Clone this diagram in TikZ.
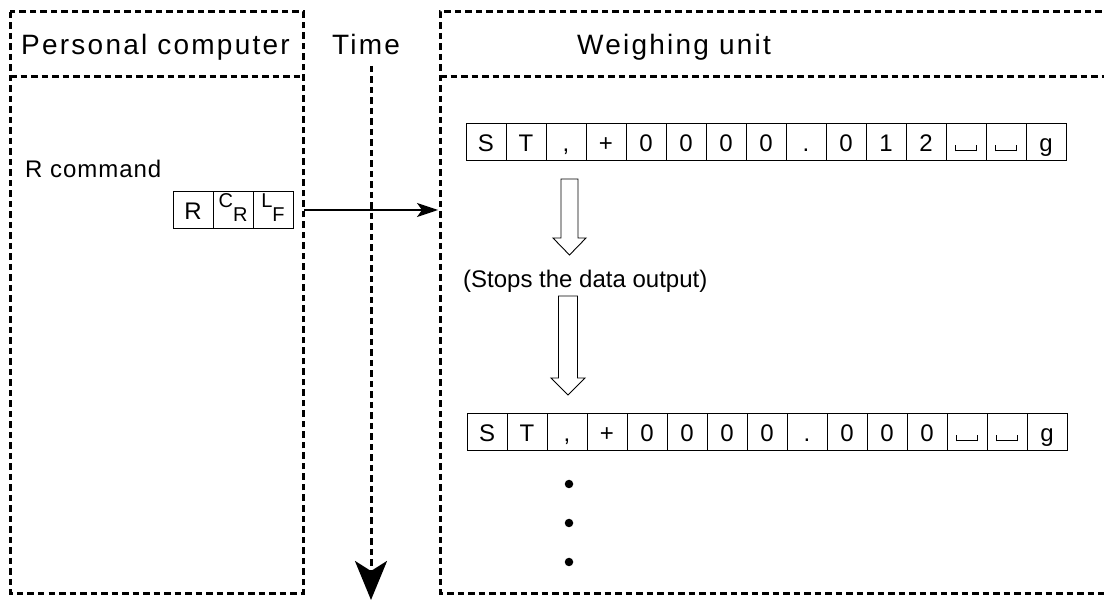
\documentclass[tikz,border=0pt]{standalone}
\usepackage{fontspec}
\setmainfont{Liberation Sans}
\newfontfamily\hdfont{Liberation Sans}[LetterSpace=8]
\newfontfamily\lsfont{Liberation Sans}[LetterSpace=4]
\usetikzlibrary{arrows.meta}
\newcommand\opensp{\rule{1pt}{6pt}\rule{20pt}{1pt}\rule{1pt}{6pt}}
\newcommand\crlf[2]{{\fontsize{20}{22}\selectfont\raisebox{12pt}{#1}\raisebox{-2pt}{#2}}}
\begin{document}
\begin{tikzpicture}[x=1pt,y=-1pt,
  frame/.style={line width=3pt, dash pattern=on 6.5pt off 4pt},
  hd/.style={font=\hdfont\fontsize{28}{32}\selectfont, inner sep=0pt},
  txt/.style={font=\fontsize{24}{28}\selectfont, inner sep=0pt},
  cell/.style={draw, line width=0.8pt, minimum width=40pt, minimum height=37pt, inner sep=0pt, text height=20pt, text depth=0pt, font=\fontsize{24}{28}\selectfont},
  hollow/.style={draw, line width=0.9pt, fill=white},
  dot/.style={circle, fill, inner sep=0pt, minimum size=8.5pt}
]
\useasboundingbox (0,0) rectangle (1104,601);
% frames
\draw[frame] (10,12) rectangle (303,593);
\draw[frame] (10,77) -- (303,77);
\draw[frame] (1112,12) -- (440,12) -- (440,593) -- (1112,593);
\draw[frame] (440,77) -- (1112,77);
% headers
\node[hd, anchor=base west] (pc) at (21,55) {Personal computer};
\node[hd, anchor=base] (time) at (366,55) {Time};
\node[hd, anchor=base west] (wu) at (577,55) {Weighing unit};
% time axis
\coordinate (tstart) at (371,66);
\coordinate (tend) at (371,600);
\draw[frame, -{Stealth[length=39pt,width=32pt,inset=10pt]}] (tstart) -- (tend);
% R command
\node[txt, font=\lsfont\fontsize{24}{28}\selectfont, anchor=base west] (rcmd) at (25,178) {R command};
\node[cell] (r1) at (193,210) {R};
\node[cell] (r2) at (233,210) {\crlf{C}{R}};
\node[cell] (r3) at (273,210) {\crlf{L}{F}};
\coordinate (wuedge) at (438,210);
\draw[line width=1.4pt, -{Stealth[length=21pt,width=14pt,inset=5pt]}, shorten <=11pt] (r3.east) -- (wuedge);
% data rows
\foreach \c [count=\i] in {S,T,{,},+,0,0,0,0,.,0,1,2,\opensp,\opensp,g}
  \node[cell] (t\i) at ({486+40*(\i-1)},141.5) {\c};
\foreach \c [count=\i] in {S,T,{,},+,0,0,0,0,.,0,0,0,\opensp,\opensp,g}
  \node[cell] (b\i) at ({487+40*(\i-1)},431.5) {\c};
% hollow arrows
\draw[hollow] (561,179) -- (561,238) -- (553,238) -- (569.5,255) -- (586,238) -- (578,238) -- (578,179) -- cycle;
\node[txt, anchor=base west] (stops) at (463,288) {(Stops the data output)};
\draw[hollow] (558.5,296) -- (558.5,378) -- (551,378) -- (568,395) -- (585,378) -- (577.5,378) -- (577.5,296) -- cycle;
% dots
\node[dot] (d1) at (569,484) {};
\node[dot] (d2) at (569,523) {};
\node[dot] (d3) at (569,562) {};
\end{tikzpicture}
\end{document}
